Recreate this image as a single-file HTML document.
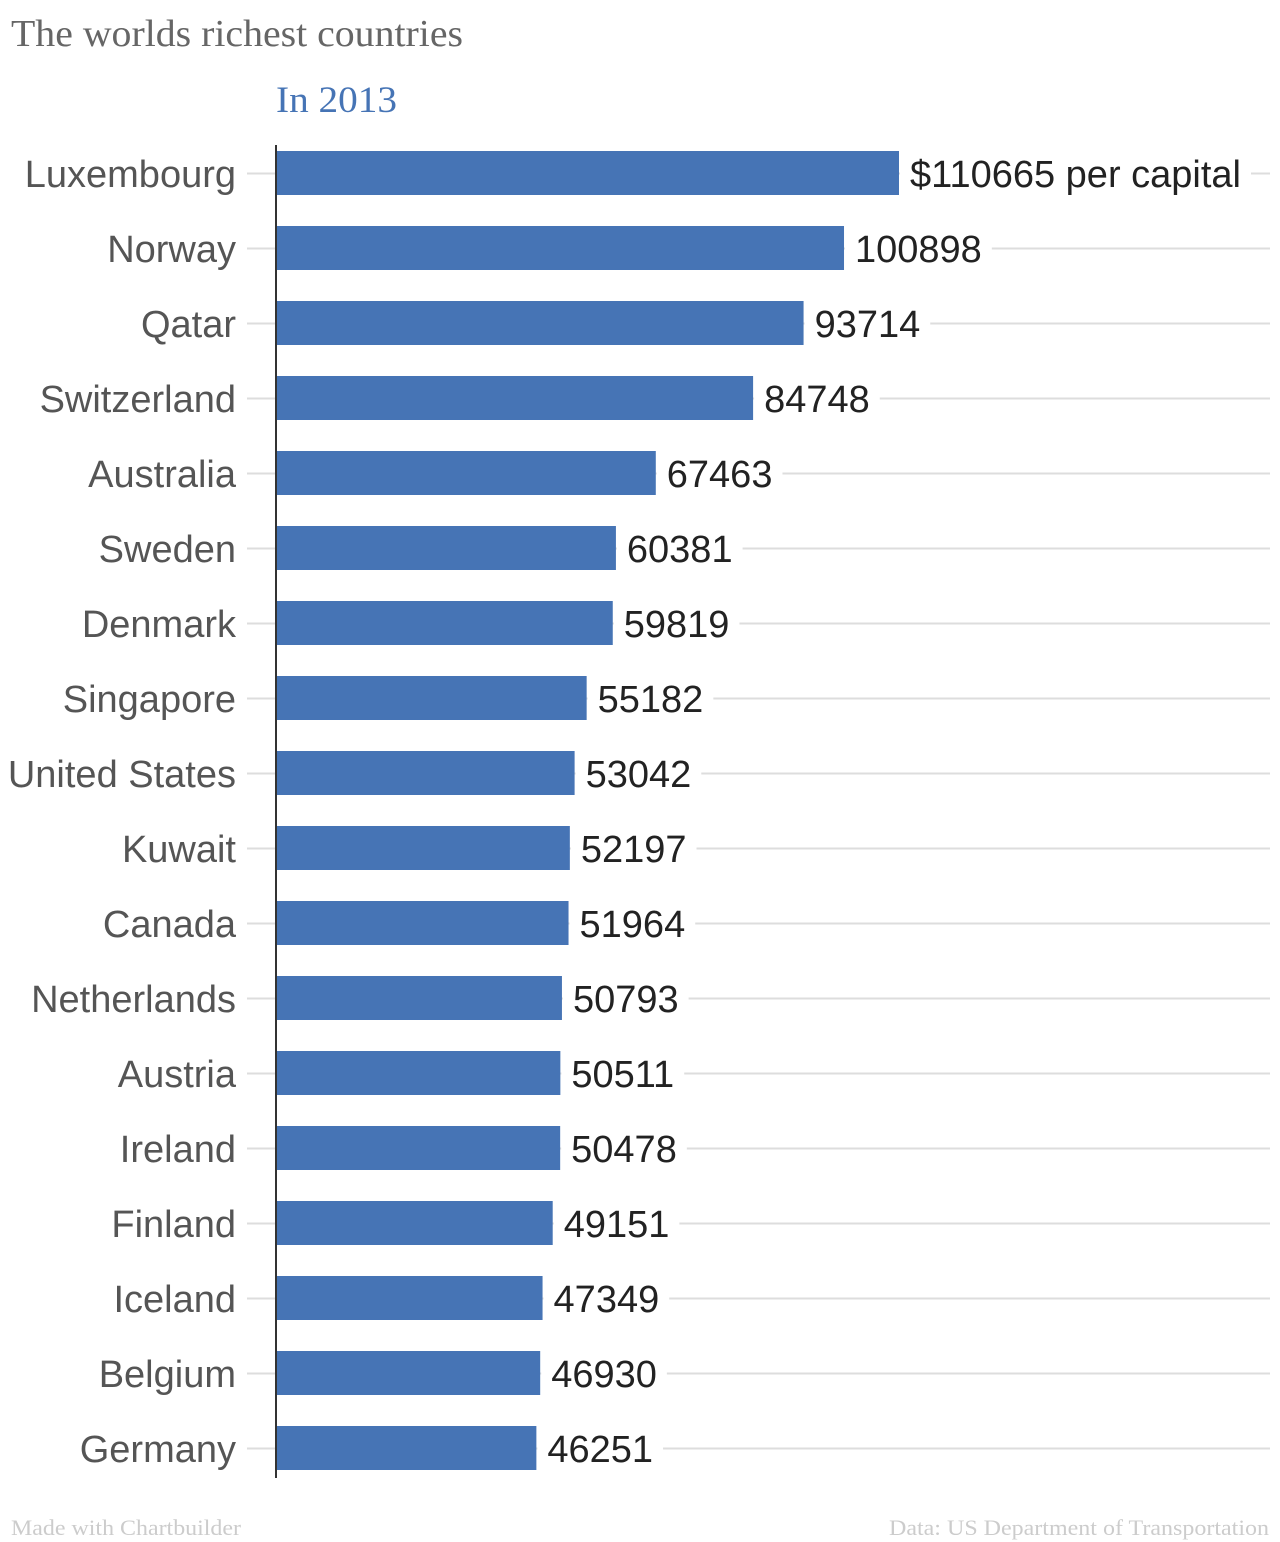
<!DOCTYPE html>
<html><head><meta charset="utf-8"><style>
body{margin:0;background:#fff;}
svg{display:block;}
</style></head><body>
<svg id="chart" width="1280" height="1542" xmlns="http://www.w3.org/2000/svg">
<text x="11" y="46" font-family="Liberation Serif, serif" font-size="38" fill="#666" textLength="452" lengthAdjust="spacingAndGlyphs">The worlds richest countries</text>
<text x="276" y="112" font-family="Liberation Serif, serif" font-size="37" fill="#4674b5" textLength="121" lengthAdjust="spacingAndGlyphs">In 2013</text>
<g id="grid"></g>
<g id="bars"></g>
<g id="labels"></g>
<line x1="276" y1="145" x2="276" y2="1478" stroke="#333" stroke-width="2"/>
<text x="11" y="1535" font-family="Liberation Serif, serif" font-size="22" fill="#ccc" textLength="230" lengthAdjust="spacingAndGlyphs">Made with Chartbuilder</text>
<text x="889" y="1535" font-family="Liberation Serif, serif" font-size="22" fill="#ccc" textLength="380" lengthAdjust="spacingAndGlyphs">Data: US Department of Transportation</text>
</svg>
<script>
const categories=["Luxembourg","Norway","Qatar","Switzerland","Australia","Sweden","Denmark","Singapore","United States","Kuwait","Canada","Netherlands","Austria","Ireland","Finland","Iceland","Belgium","Germany"];
const values=[110665,100898,93714,84748,67463,60381,59819,55182,53042,52197,51964,50793,50511,50478,49151,47349,46930,46251];
const NS="http://www.w3.org/2000/svg";
const x0=276, pxPer=623/110665;
function xScale(v){return x0+v*pxPer;}
function yCenter(i){return 173+i*75;}
const grid=document.getElementById('grid'),bars=document.getElementById('bars'),labels=document.getElementById('labels');
function mk(tag,attrs,parent){const e=document.createElementNS(NS,tag);for(const k in attrs)e.setAttribute(k,attrs[k]);parent.appendChild(e);return e;}
categories.forEach((c,i)=>{
  const yc=yCenter(i);
  const g=mk('line',{x1:247,x2:1270,y1:yc+0.5,y2:yc+0.5,stroke:'#ddd','stroke-width':2},grid);
  
  
  const r=mk('rect',{x:x0+1,y:yc-22,width:xScale(values[i])-x0-1,height:44,fill:'#4674b5'},bars);
  
  
  const cl=mk('text',{x:236,y:yc+14,'text-anchor':'end','font-family':'Liberation Sans, sans-serif','font-size':38,fill:'#555'},labels);
  cl.textContent=c;
  
  
  const tx=xScale(values[i])+11;
  const bg=mk('rect',{x:tx-10,y:yc-20,height:40,width:10,fill:'#fff'},labels);
  
  
  const vl=mk('text',{x:tx,y:yc+14,'font-family':'Liberation Sans, sans-serif','font-size':38,fill:'#222'},labels);
  vl.textContent=i===0?('$'+values[i]+' per capital'):String(values[i]);
  
  
  bg.setAttribute('width',vl.getComputedTextLength()+20);
});
</script>
</body></html>
